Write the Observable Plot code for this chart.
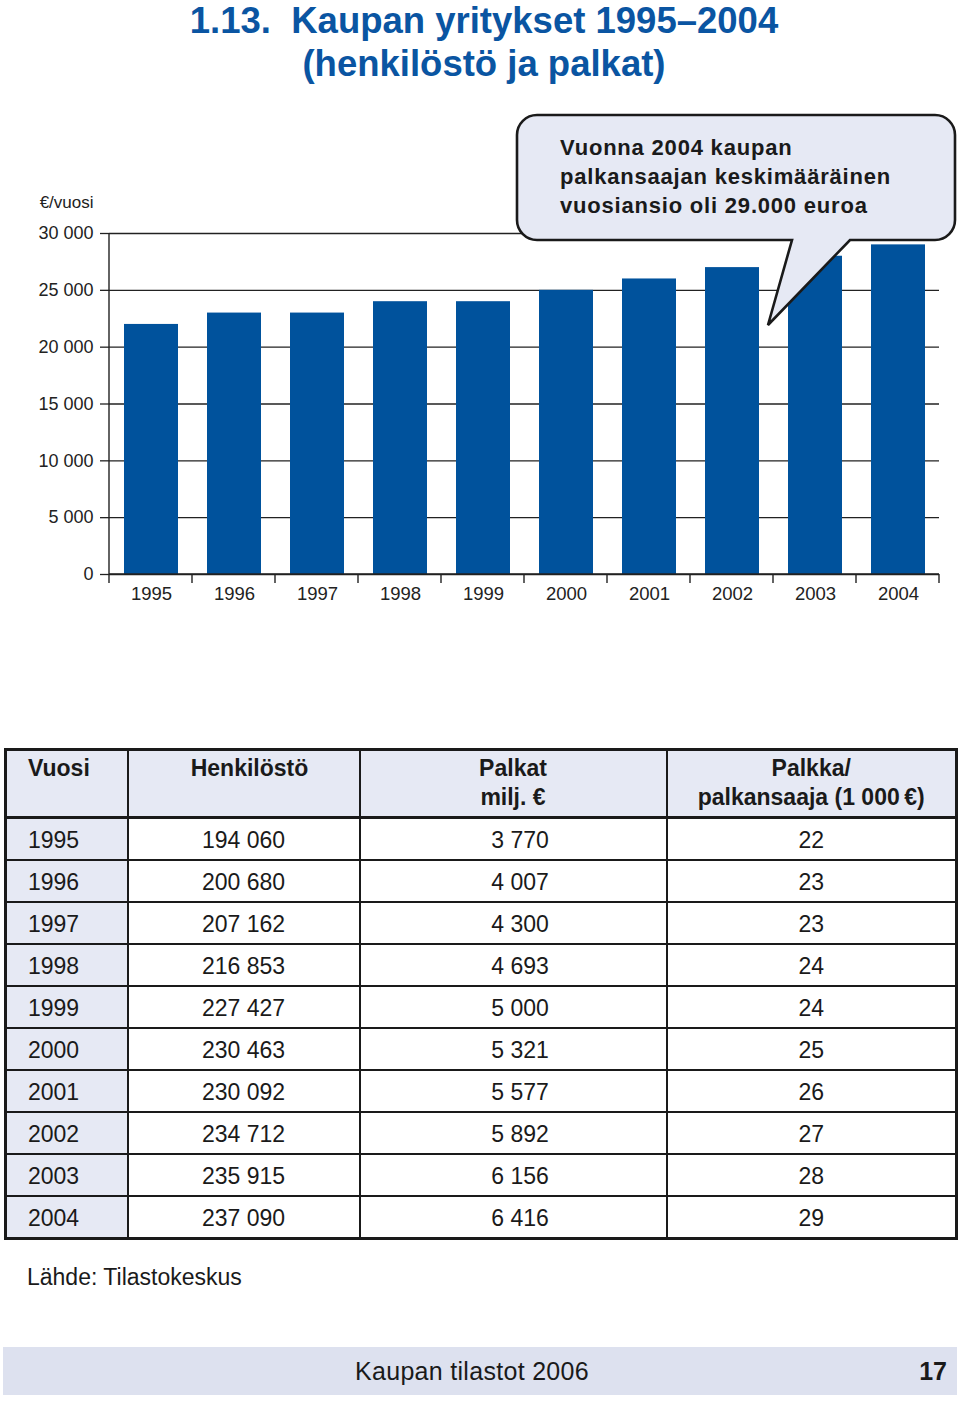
<!DOCTYPE html>
<html><head><meta charset="utf-8">
<script src="https://cdn.jsdelivr.net/npm/d3@7"></script>
<script src="https://cdn.jsdelivr.net/npm/@observablehq/plot@0.6"></script>
<style>
body{margin:0;background:#fff;font-family:"Liberation Sans",Arial,Helvetica,sans-serif;color:#1a1a1a;}
#page{position:relative;width:960px;height:1404px;overflow:hidden;background:#fff;}
.title{position:absolute;left:0;width:968px;height:40px;text-align:center;font-weight:bold;font-size:36.5px;line-height:40px;color:#0a55a2;white-space:nowrap;}
#chart{position:absolute;left:0;top:100px;}
#tbl{position:absolute;left:4px;top:748px;border-collapse:collapse;width:951px;table-layout:fixed;font-size:23px;border:3px solid #1a1a1a;}
#tbl td{border:2px solid #1a1a1a;padding:0;color:#1a1a1a;}
#tbl tr.head td{background:#e6e9f4;font-weight:bold;vertical-align:top;line-height:29px;padding-top:3px;height:62px;text-align:center;border-bottom:3px solid #1a1a1a;}
#tbl tr.row td{height:38px;vertical-align:middle;text-align:center;padding-top:2px;}
#tbl td.c0{text-align:left !important;padding-left:21px !important;background:#e6e9f4;}
#tbl tr.head td.c1{padding-left:12px;}
#tbl tr.row td.c2{padding-left:14px;}
#source{position:absolute;left:27px;top:1263px;font-size:23px;line-height:28px;}
#footer{position:absolute;left:3px;top:1347px;width:954px;height:48px;background:#dde1ef;}
#footer .t{position:absolute;left:0;width:938px;text-align:center;top:9px;font-size:25px;line-height:30px;letter-spacing:0.3px;}
#footer .n{position:absolute;right:10px;top:9px;font-size:25px;line-height:30px;font-weight:bold;}
</style>
</head>
<body>
<div id="page">
  <div class="title" style="top:1px">1.13.&nbsp; Kaupan yritykset 1995–2004</div>
  <div class="title" style="top:44px">(henkilöstö ja palkat)</div>
  <div id="chart"></div>
  <table id="tbl"></table>
  <div id="source">Lähde: Tilastokeskus</div>
  <div id="footer"><div class="t">Kaupan tilastot 2006</div><div class="n">17</div></div>
</div>
<script>
// ---- data ----
const years = ["1995","1996","1997","1998","1999","2000","2001","2002","2003","2004"];
const henkilosto = [194060, 200680, 207162, 216853, 227427, 230463, 230092, 234712, 235915, 237090];
const palkat = [3770, 4007, 4300, 4693, 5000, 5321, 5577, 5892, 6156, 6416];
const palkkaPerHlo = [22, 23, 23, 24, 24, 25, 26, 27, 28, 29]; // 1 000 €
const yTicks = [0, 5000, 10000, 15000, 20000, 25000, 30000];
const headers = [["Vuosi"], ["Henkilöstö"], ["Palkat", "milj. €"], ["Palkka/", "palkansaaja (1 000\u2009€)"]];
const calloutLines = ["Vuonna 2004 kaupan", "palkansaajan keskimääräinen", "vuosiansio oli 29.000 euroa"];
const yUnit = "€/vuosi";

const fmt = d => d3.format(",")(d).replace(/,/g, " ");
const data = years.map((y, i) => ({year: y, pay: palkkaPerHlo[i] * 1000}));

const W = 960, H = 520, mT = 133, mB = 46, mL = 109, mR = 21;
const ink = "#222";

function axisLines(index, scales, values, dims) {
  const g = d3.create("svg:g").attr("stroke", ink).attr("stroke-width", 1.4).attr("fill", "none");
  const y = scales.y, x = scales.x;
  const y0 = y(0), yTop = y(yTicks[yTicks.length - 1]);
  const x0 = dims.marginLeft, x1 = dims.width - dims.marginRight;
  const step = x(years[1]) - x(years[0]);
  g.append("line").attr("x1", x0).attr("x2", x0).attr("y1", yTop).attr("y2", y0 + 9);
  g.append("line").attr("x1", x0).attr("x2", x1).attr("y1", y0).attr("y2", y0);
  for (let k = 1; k <= years.length; k++) {
    const xx = x0 + k * step;
    g.append("line").attr("x1", xx).attr("x2", xx).attr("y1", y0).attr("y2", y0 + 9);
  }
  return g.node();
}

function callout(index, scales, values, dims) {
  const g = d3.create("svg:g");
  const L = 517, T = 15, R = 955, B = 140, r = 20;
  const tipX = 768, tipY = 225, bR = 850, bL = 792;
  const p = `M${L + r},${T} H${R - r} A${r},${r} 0 0 1 ${R},${T + r} V${B - r} A${r},${r} 0 0 1 ${R - r},${B} H${bR} L${tipX},${tipY} L${bL},${B} H${L + r} A${r},${r} 0 0 1 ${L},${B - r} V${T + r} A${r},${r} 0 0 1 ${L + r},${T} Z`;
  g.append("path").attr("d", p).attr("fill", "#e6e9f4").attr("stroke", "#1a1a1a").attr("stroke-width", 2.6).attr("stroke-linejoin", "miter");
  const t = g.append("g").attr("font-weight", "bold").attr("font-size", 22).attr("letter-spacing", "0.8px")
    .attr("fill", "#1a1a1a").attr("text-anchor", "start");
  calloutLines.forEach((s, i) => t.append("text").attr("x", 560).attr("y", 55 + i * 29).attr("text-anchor", "start").text(s));
  return g.node();
}

const chart = Plot.plot({
  width: W, height: H, marginTop: mT, marginBottom: mB, marginLeft: mL, marginRight: mR,
  style: {fontFamily: "Liberation Sans, Arial, sans-serif", color: ink, background: "transparent", overflow: "visible"},
  x: {domain: years, paddingInner: 0.35, paddingOuter: 0.175, label: null},
  y: {domain: [0, 30000], label: null},
  marks: [
    Plot.gridY(yTicks, {stroke: ink, strokeOpacity: 1, strokeWidth: 1.3}),
    Plot.barY(data, {x: "year", y: "pay", fill: "#00529c"}),
    Plot.axisY(yTicks, {tickSize: 9, tickPadding: 7, fontSize: 18, tickFormat: fmt, stroke: ink, strokeWidth: 1.3, strokeOpacity: 1, label: null, fill: ink}),
    Plot.axisX({tickSize: 0, tickPadding: 12, fontSize: 18.5, label: null, fill: ink}),
    axisLines,
    Plot.text([yUnit], {frameAnchor: "top-left", dx: -16, dy: -26, textAnchor: "end", lineAnchor: "bottom", fontSize: 17, fill: ink}),
    callout
  ]
});
document.getElementById("chart").appendChild(chart);

// ---- table ----
const tbl = d3.select("#tbl");
const cg = tbl.append("colgroup");
[122, 232, 307, 290].forEach(w => cg.append("col").style("width", w + "px"));
const hr = tbl.append("tr").attr("class", "head");
headers.forEach((h, i) => {
  const td = hr.append("td").attr("class", "c" + i);
  h.forEach((line, j) => { if (j) td.append("br"); td.append("span").text(line); });
});
years.forEach((y, i) => {
  const tr = tbl.append("tr").attr("class", "row");
  [y, fmt(henkilosto[i]), fmt(palkat[i]), String(palkkaPerHlo[i])].forEach((v, j) =>
    tr.append("td").attr("class", "c" + j).text(v));
});
</script>
</body></html>
